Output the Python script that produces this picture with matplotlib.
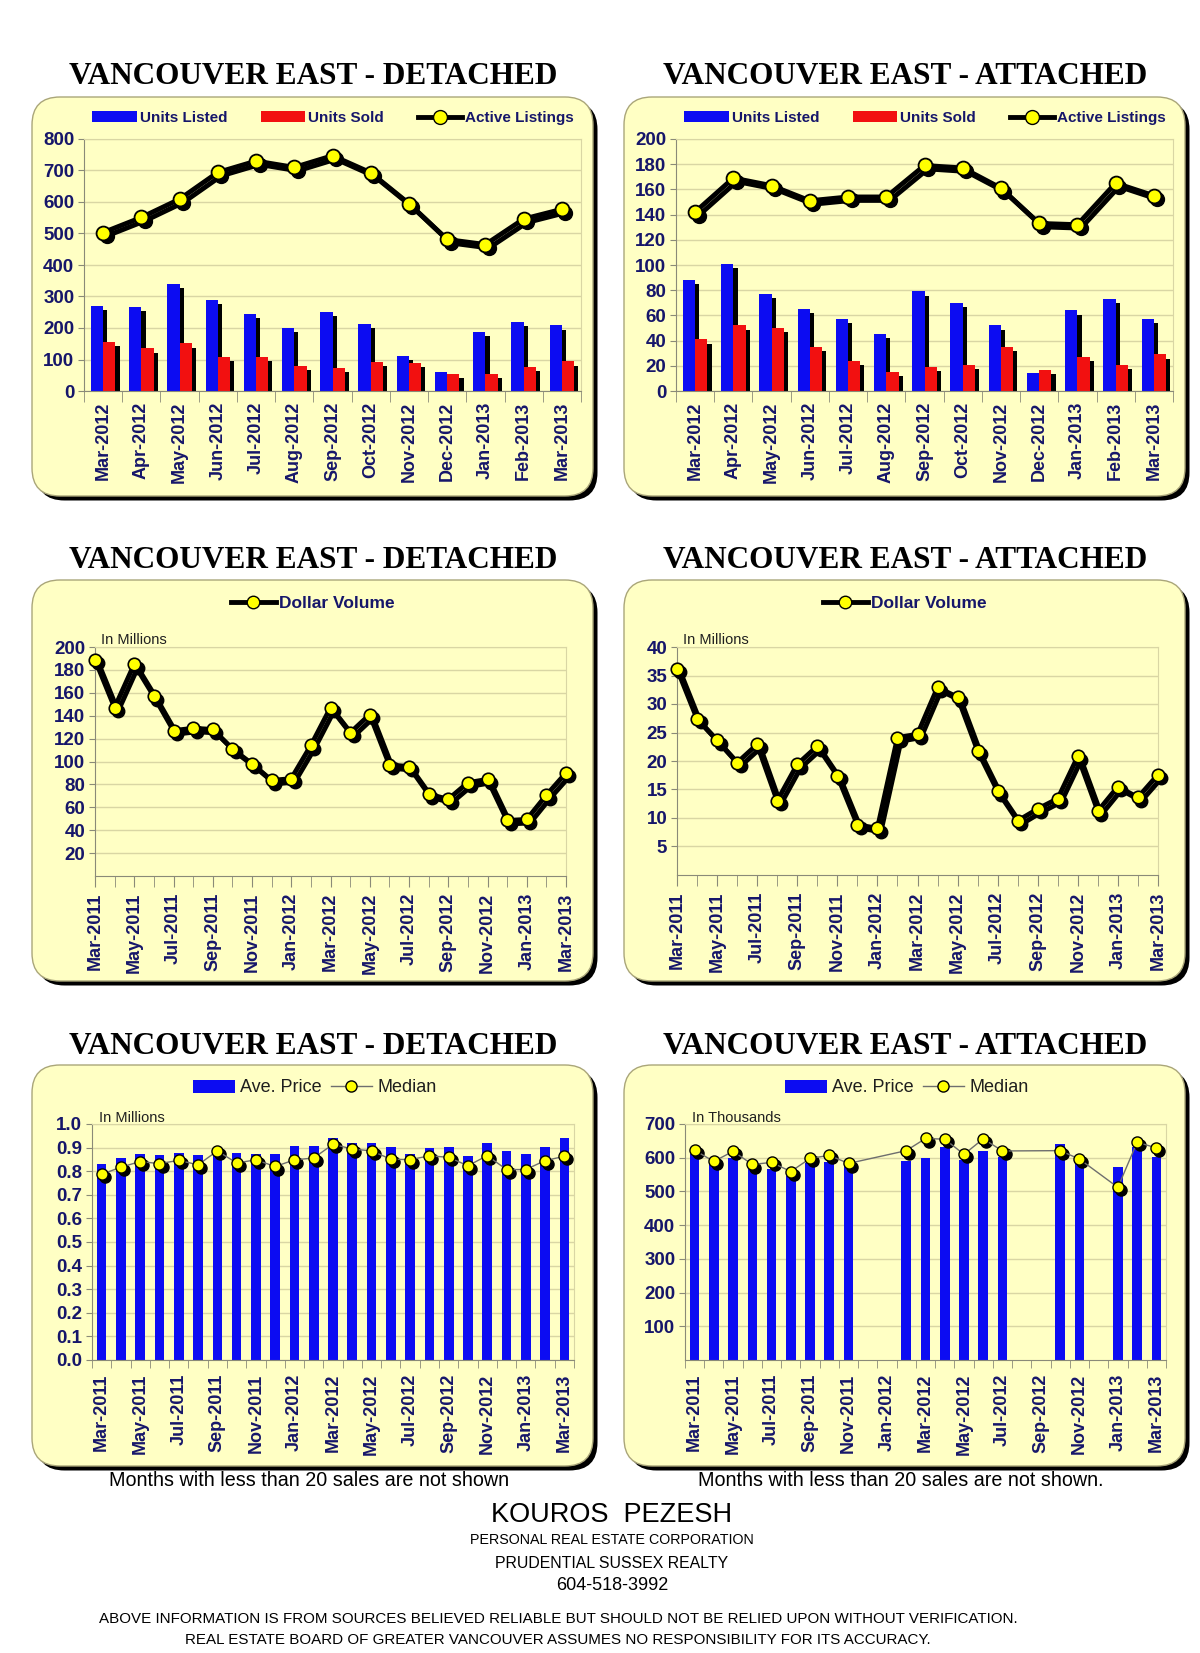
import matplotlib
matplotlib.use("Agg")
import matplotlib.pyplot as plt
import matplotlib.patheffects as pe
import matplotlib.transforms as mtrans
from matplotlib.patches import FancyBboxPatch, Patch
from matplotlib.lines import Line2D
import numpy as np

plt.rcParams['font.family'] = ['Liberation Sans', 'DejaVu Sans']

# ---- data ----
months_12 = ["Mar-2012", "Apr-2012", "May-2012", "Jun-2012", "Jul-2012", "Aug-2012",
             "Sep-2012", "Oct-2012", "Nov-2012", "Dec-2012", "Jan-2013", "Feb-2013", "Mar-2013"]
det_listed = [270, 268, 340, 288, 246, 199, 250, 214, 111, 61, 187, 219, 208]
det_sold = [155, 135, 151, 107, 109, 79, 74, 92, 90, 54, 55, 76, 94]
det_active = [503, 551, 609, 694, 730, 710, 747, 693, 595, 481, 465, 546, 577]
att_listed = [88, 101, 77, 65, 57, 45, 79, 70, 52, 14, 64, 73, 57]
att_sold = [41, 52, 50, 35, 24, 15, 19, 21, 35, 17, 27, 21, 29]
att_active = [142, 169, 163, 151, 154, 154, 179, 177, 161, 133, 132, 165, 155]

months_25 = ["Mar-2011", "Apr-2011", "May-2011", "Jun-2011", "Jul-2011", "Aug-2011", "Sep-2011",
             "Oct-2011", "Nov-2011", "Dec-2011", "Jan-2012", "Feb-2012", "Mar-2012", "Apr-2012",
             "May-2012", "Jun-2012", "Jul-2012", "Aug-2012", "Sep-2012", "Oct-2012", "Nov-2012",
             "Dec-2012", "Jan-2013", "Feb-2013", "Mar-2013"]
det_volume = [189, 147, 185, 157, 127, 129, 128, 111, 98, 83.5, 85, 114, 147, 125, 141, 97,
              95.6, 71.5, 67, 81.5, 84.4, 48.5, 49.4, 70.6, 90]
att_volume = [36.2, 27.4, 23.6, 19.7, 22.9, 13.0, 19.4, 22.6, 17.4, 8.8, 8.2, 24.1, 24.7, 32.9,
              31.2, 21.8, 14.7, 9.5, 11.6, 13.4, 20.8, 11.2, 15.5, 13.6, 17.6]

det_avg = [0.830, 0.858, 0.872, 0.870, 0.877, 0.869, 0.885, 0.877, 0.872, 0.875, 0.907, 0.907,
           0.939, 0.921, 0.921, 0.903, 0.872, 0.899, 0.903, 0.865, 0.920, 0.887, 0.872, 0.904, 0.942]
det_median = [0.787, 0.817, 0.841, 0.832, 0.846, 0.827, 0.886, 0.835, 0.848, 0.820, 0.848, 0.856,
              0.914, 0.894, 0.886, 0.851, 0.849, 0.865, 0.859, 0.823, 0.866, 0.807, 0.807, 0.845, 0.863]
nan = np.nan
att_avg = [610, 583, 600, 575, 568, 546, 583, 588, 575, nan, nan, 591, 600, 631, 594, 621, 603,
           nan, nan, 640, 591, nan, 573, 631, 601]
att_median = [622, 589, 619, 580, 586, 559, 598, 607, 583, nan, nan, 621, 657, 655, 610, 656, 620,
              nan, nan, 621, 596, nan, 512, 646, 629]

W, H, DPI = 1200, 1653, 100
NAVY = '#16166a'
BLUE = '#0c0cf2'
RED = '#f21010'
YELLOW = '#ffff00'
PANEL = '#ffffc4'
GRID = '#d9d6a4'
AXIS = '#8a8a78'

fig = plt.figure(figsize=(W / DPI, H / DPI), dpi=DPI)
fig.patch.set_facecolor('white')


def panel(x0, y0, x1, y1):
    left, bottom = x0 / DPI, (H - y1) / DPI
    w, h = (x1 - x0) / DPI, (y1 - y0) / DPI
    style = "round,pad=0,rounding_size=0.28"
    sh = FancyBboxPatch((left + 0.045, bottom - 0.045), w, h, boxstyle=style, fc='black',
                        ec='none', transform=fig.dpi_scale_trans, zorder=-3)
    bx = FancyBboxPatch((left, bottom), w, h, boxstyle=style, fc=PANEL, ec='#aaa67a', lw=1,
                        transform=fig.dpi_scale_trans, zorder=-2)
    fig.patches.extend([sh, bx])


def axes_px(x0, y_top, x1, y_bot):
    ax = fig.add_axes([x0 / W, 1 - y_bot / H, (x1 - x0) / W, (y_bot - y_top) / H])
    ax.set_facecolor('none')
    for s in ['top', 'right']:
        ax.spines[s].set_color(GRID)
    for s in ['left', 'bottom']:
        ax.spines[s].set_color(AXIS)
    ax.grid(axis='y', color=GRID, lw=1)
    ax.set_axisbelow(True)
    ax.tick_params(axis='y', length=4, color=AXIS, labelcolor=NAVY, labelsize=13.5, pad=3)
    ax.tick_params(axis='x', which='both', color=AXIS, labelcolor=NAVY, labelsize=13)
    return ax


def title(x, y, s):
    fig.text(x / W, 1 - y / H, s, ha='center', va='center', fontsize=22.5, fontweight='bold',
             family=['Liberation Serif', 'DejaVu Serif'])


def set_yticks(ax, ticks, fmt):
    ax.set_yticks(ticks)
    ax.set_yticklabels([fmt.format(t) for t in ticks], fontweight='bold')


def shadow_tr(ax, d):
    return mtrans.offset_copy(ax.transData, fig=fig, x=d, y=-d, units='points')


def units_chart(ax, listed, sold, active, ymax, ystep, legend_xy):
    x = np.arange(len(months_12))
    eff = [pe.SimplePatchShadow(offset=(3, -3), shadow_rgbFace='black', alpha=1.0), pe.Normal()]
    for r in ax.bar(x - 0.16, listed, 0.32, color=BLUE, zorder=2):
        r.set_path_effects(eff)
    for r in ax.bar(x + 0.16, sold, 0.32, color=RED, zorder=2):
        r.set_path_effects(eff)
    ax.plot(x, active, color='black', lw=3.5, marker='o', ms=10, mfc='black', mec='black',
            transform=shadow_tr(ax, 2.5), zorder=3)
    ax.plot(x, active, color='black', lw=3.5, marker='o', ms=10, mfc=YELLOW, mec='black',
            mew=1.3, zorder=4)
    ax.set_xlim(-0.5, len(x) - 0.5)
    ax.set_ylim(0, ymax)
    set_yticks(ax, np.arange(0, ymax + 1, ystep), "{:.0f}")
    ax.set_xticks(x)
    ax.set_xticklabels(months_12, rotation=90, fontweight='bold')
    ax.set_xticks(np.arange(-0.5, len(x), 1), minor=True)
    ax.tick_params(axis='x', which='major', length=0, pad=8)
    ax.tick_params(axis='x', which='minor', length=8)
    handles = [Patch(fc=BLUE, label='Units Listed'), Patch(fc=RED, label='Units Sold'),
               Line2D([], [], color='black', lw=3.5, marker='o', ms=10, mfc=YELLOW, mec='black',
                      label='Active Listings')]
    leg = ax.legend(handles=handles, loc='center', ncol=3, frameon=False,
                    bbox_to_anchor=(legend_xy[0] / W, 1 - legend_xy[1] / H),
                    bbox_transform=fig.transFigure, handlelength=2.9, handleheight=0.75,
                    handletextpad=0.2, columnspacing=2.2, prop=dict(weight='bold', size=11))
    for t in leg.get_texts():
        t.set_color(NAVY)


def volume_chart(ax, vol, ymax, ystep, legend_xy):
    x = np.arange(len(months_25))
    ax.plot(x, vol, color='black', lw=3.5, marker='o', ms=9, mfc='black', mec='black',
            transform=shadow_tr(ax, 2.5), zorder=3, clip_on=False)
    ax.plot(x, vol, color='black', lw=3.5, marker='o', ms=9, mfc=YELLOW, mec='black', mew=1.2,
            zorder=4, clip_on=False)
    ax.set_xlim(0, len(x) - 1)
    ax.set_ylim(0, ymax)
    set_yticks(ax, np.arange(ystep, ymax + 0.1, ystep), "{:.0f}")
    ax.set_xticks(x[::2])
    ax.set_xticklabels(months_25[::2], rotation=90, fontweight='bold')
    ax.set_xticks(x, minor=True)
    ax.tick_params(axis='x', which='both', length=8, pad=4)
    ax.text(0.012, 1.032, "In Millions", transform=ax.transAxes, va='center', fontsize=10.5,
            color='#202020')
    h = [Line2D([], [], color='black', lw=3.5, marker='o', ms=9, mfc=YELLOW, mec='black',
                label='Dollar Volume')]
    leg = ax.legend(handles=h, loc='center', frameon=False,
                    bbox_to_anchor=(legend_xy[0] / W, 1 - legend_xy[1] / H),
                    bbox_transform=fig.transFigure, handlelength=2.6, handletextpad=0.2,
                    prop=dict(weight='bold', size=12.5))
    for t in leg.get_texts():
        t.set_color(NAVY)


def price_chart(ax, avg, med, ymax, ticks, fmt, unit, legend_xy):
    x = np.arange(len(months_25))
    avg = np.array(avg, dtype=float)
    med = np.array(med, dtype=float)
    ok = ~np.isnan(med)
    ax.bar(x, avg, 0.5, color=BLUE, zorder=2)
    ax.plot(x[ok], med[ok], ls='none', marker='o', ms=8, mfc='black', mec='black',
            transform=shadow_tr(ax, 2.2), zorder=3)
    ax.plot(x[ok], med[ok], color='#6e6e6e', lw=1, marker='o', ms=8, mfc=YELLOW, mec='black',
            mew=1.0, zorder=4)
    ax.set_xlim(-0.5, len(x) - 0.5)
    ax.set_ylim(0, ymax)
    set_yticks(ax, ticks, fmt)
    ax.set_xticks(x[::2])
    ax.set_xticklabels(months_25[::2], rotation=90, fontweight='bold')
    ax.set_xticks(np.arange(-0.5, len(x), 1), minor=True)
    ax.tick_params(axis='x', which='major', length=0, pad=10)
    ax.tick_params(axis='x', which='minor', length=6)
    ax.text(0.015, 1.027, unit, transform=ax.transAxes, va='center', fontsize=10.5,
            color='#202020')
    h = [Patch(fc=BLUE, label='Ave. Price'),
         Line2D([], [], color='#6e6e6e', lw=1, marker='o', ms=8, mfc=YELLOW, mec='black',
                label='Median')]
    leg = ax.legend(handles=h, loc='center', ncol=2, frameon=False,
                    bbox_to_anchor=(legend_xy[0] / W, 1 - legend_xy[1] / H),
                    bbox_transform=fig.transFigure, handlelength=2.3, handleheight=0.75,
                    handletextpad=0.3, columnspacing=0.5, prop=dict(size=13))
    for t in leg.get_texts():
        t.set_color('#1e1e1e')


# ---- panels ----
for y0, y1 in [(97, 496), (580, 981), (1065, 1466)]:
    panel(32, y0, 593, y1)
    panel(624, y0, 1185, y1)

for y in [77, 561, 1046]:
    title(313, y, "VANCOUVER EAST - DETACHED")
    title(905, y, "VANCOUVER EAST - ATTACHED")

ax1 = axes_px(84, 139, 581, 391)
units_chart(ax1, det_listed, det_sold, det_active, 800, 100, (333, 118))
ax2 = axes_px(676, 139, 1173, 391)
units_chart(ax2, att_listed, att_sold, att_active, 200, 20, (925, 118))

ax3 = axes_px(95, 647, 566, 876)
volume_chart(ax3, det_volume, 200, 20, (313, 603))
ax4 = axes_px(677, 647, 1158, 875)
volume_chart(ax4, att_volume, 40, 5, (905, 603))

ax5 = axes_px(92, 1124, 574, 1360)
price_chart(ax5, det_avg, det_median, 1.0, np.arange(0, 1.01, 0.1), "{:.1f}", "In Millions",
            (315, 1088))
ax6 = axes_px(685, 1124, 1166, 1360)
price_chart(ax6, att_avg, att_median, 700, np.arange(100, 701, 100), "{:.0f}", "In Thousands",
            (907, 1088))

# ---- notes and footer ----
fig.text(309 / W, 1 - 1480 / H, "Months with less than 20 sales are not shown", ha='center',
         va='center', fontsize=14.2)
fig.text(901 / W, 1 - 1480 / H, "Months with less than 20 sales are not shown.", ha='center',
         va='center', fontsize=14.2)

foot = ['Liberation Sans', 'DejaVu Sans']
fig.text(612 / W, 1 - 1515 / H, "KOUROS  PEZESH", ha='center', va='center', fontsize=19.5,
         family=foot)
fig.text(612 / W, 1 - 1540 / H, "PERSONAL REAL ESTATE CORPORATION", ha='center', va='center',
         fontsize=10.3, family=foot)
fig.text(612 / W, 1 - 1563 / H, "PRUDENTIAL SUSSEX REALTY", ha='center', va='center',
         fontsize=11.4, family=foot)
fig.text(612 / W, 1 - 1586 / H, "604-518-3992", ha='center', va='center', fontsize=13,
         family=foot)
fig.text(558 / W, 1 - 1619 / H,
         "ABOVE INFORMATION IS FROM SOURCES BELIEVED RELIABLE BUT SHOULD NOT BE RELIED UPON WITHOUT VERIFICATION.",
         ha='center', va='center', fontsize=10.9, family=foot)
fig.text(558 / W, 1 - 1640 / H,
         "REAL ESTATE BOARD OF GREATER VANCOUVER ASSUMES NO RESPONSIBILITY FOR ITS ACCURACY.",
         ha='center', va='center', fontsize=10.9, family=foot)

fig.savefig("out.png", dpi=DPI)
